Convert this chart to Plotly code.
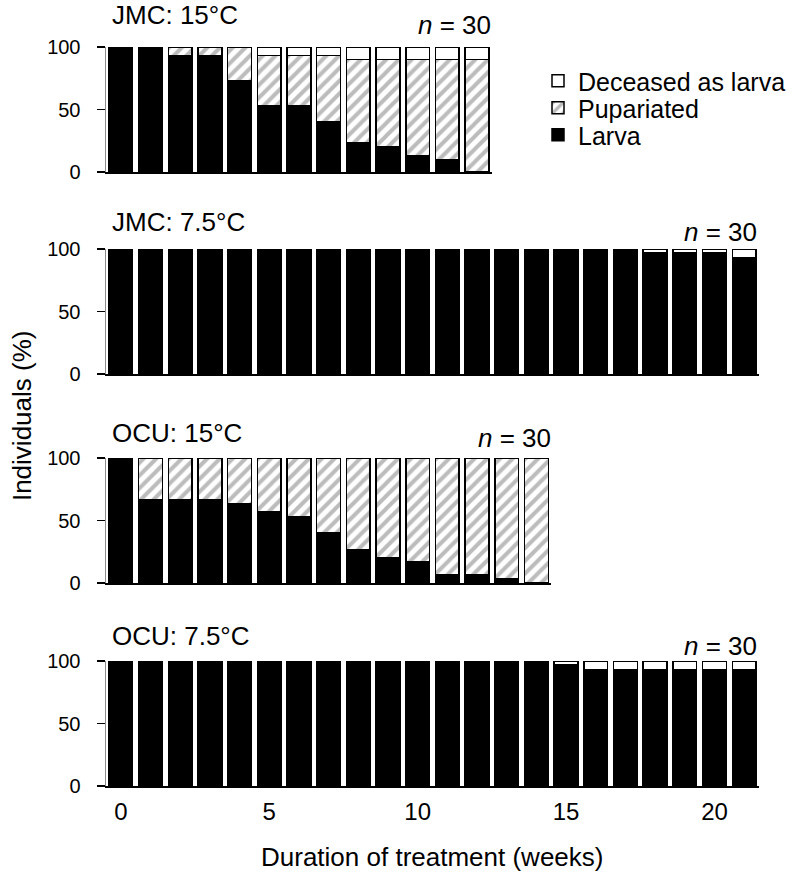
import plotly.graph_objects as go

# ---------------- data ----------------
weeks_jmc15 = [0, 1, 2, 3, 4, 5, 6, 7, 8, 9, 10, 11, 12]
jmc15_larva = [100, 100, 93.3, 93.3, 73.3, 53.3, 53.3, 40, 23.3, 20, 13.3, 10, 0]
jmc15_pup = [0, 0, 6.7, 6.7, 26.7, 40, 40, 53.3, 66.7, 70, 76.7, 80, 90]
jmc15_dead = [0, 0, 0, 0, 0, 6.7, 6.7, 6.7, 10, 10, 10, 10, 10]

weeks_jmc75 = [0, 1, 2, 3, 4, 5, 6, 7, 8, 9, 10, 11, 12, 13, 14, 15, 16, 17, 18, 19, 20, 21]
jmc75_larva = [100, 100, 100, 100, 100, 100, 100, 100, 100, 100, 100, 100, 100, 100, 100, 100, 100, 100, 96.7, 96.7, 96.7, 93.3]
jmc75_pup = [0, 0, 0, 0, 0, 0, 0, 0, 0, 0, 0, 0, 0, 0, 0, 0, 0, 0, 0, 0, 0, 0]
jmc75_dead = [0, 0, 0, 0, 0, 0, 0, 0, 0, 0, 0, 0, 0, 0, 0, 0, 0, 0, 3.3, 3.3, 3.3, 6.7]

weeks_ocu15 = [0, 1, 2, 3, 4, 5, 6, 7, 8, 9, 10, 11, 12, 13, 14]
ocu15_larva = [100, 66.7, 66.7, 66.7, 63.3, 56.7, 53.3, 40, 26.7, 20, 16.7, 6.7, 6.7, 3.3, 0]
ocu15_pup = [0, 33.3, 33.3, 33.3, 36.7, 43.3, 46.7, 60, 73.3, 80, 83.3, 93.3, 93.3, 96.7, 100]
ocu15_dead = [0, 0, 0, 0, 0, 0, 0, 0, 0, 0, 0, 0, 0, 0, 0]

weeks_ocu75 = [0, 1, 2, 3, 4, 5, 6, 7, 8, 9, 10, 11, 12, 13, 14, 15, 16, 17, 18, 19, 20, 21]
ocu75_larva = [100, 100, 100, 100, 100, 100, 100, 100, 100, 100, 100, 100, 100, 100, 100, 96.7, 93.3, 93.3, 93.3, 93.3, 93.3, 93.3]
ocu75_pup = [0, 0, 0, 0, 0, 0, 0, 0, 0, 0, 0, 0, 0, 0, 0, 0, 0, 0, 0, 0, 0, 0]
ocu75_dead = [0, 0, 0, 0, 0, 0, 0, 0, 0, 0, 0, 0, 0, 0, 0, 3.3, 6.7, 6.7, 6.7, 6.7, 6.7, 6.7]

panel_titles = ["JMC: 15°C", "JMC: 7.5°C", "OCU: 15°C", "OCU: 7.5°C"]
n_labels = ["30", "30", "30", "30"]
series_names = ["Larva", "Pupariated", "Deceased as larva"]
x_tickvals = [0, 5, 10, 15, 20]
y_tickvals = [0, 50, 100]

# ---------------- layout geometry ----------------
W, H = 793, 878
L, R, T, B = 106, 33.5, 47, 92
PW = W - L - R
PH = H - T - B
NMAX = 22
FONT = "Liberation Sans, Arial, sans-serif"


def fx(px):
    return (px - L) / PW


def fy(py):
    return (H - B - py) / PH


panels = [
    dict(weeks=weeks_jmc15, data=[jmc15_larva, jmc15_pup, jmc15_dead], top=47, bottom=172, ty=15, ny=25, nr=493),
    dict(weeks=weeks_jmc75, data=[jmc75_larva, jmc75_pup, jmc75_dead], top=249, bottom=374, ty=222, ny=232, nr=760),
    dict(weeks=weeks_ocu15, data=[ocu15_larva, ocu15_pup, ocu15_dead], top=458, bottom=583, ty=433, ny=438, nr=553),
    dict(weeks=weeks_ocu75, data=[ocu75_larva, ocu75_pup, ocu75_dead], top=661, bottom=786, ty=636, ny=646, nr=760),
]

styles = [
    dict(color="black", line=dict(color="black", width=1.5)),
    dict(color="white", line=dict(color="black", width=1.5),
         pattern=dict(shape="/", fgcolor="#7a7a7a", bgcolor="white", size=9, solidity=0.45)),
    dict(color="white", line=dict(color="black", width=1.5)),
]
legend_ids = ["legend3", "legend2", "legend"]

fig = go.Figure()
layout = {}
annotations = []

for i, p in enumerate(panels):
    k = "" if i == 0 else str(i + 1)
    n = len(p["weeks"])
    for j in range(3):
        vals = [v if v != 0 else None for v in p["data"][j]]
        fig.add_trace(go.Bar(
            x=p["weeks"], y=vals, name=series_names[j],
            marker=styles[j], width=0.8,
            xaxis="x" + k, yaxis="y" + k,
            showlegend=(i == 0), legend=legend_ids[j],
            hoverinfo="skip",
        ))
    bottom_panel = (i == len(panels) - 1)
    layout["xaxis" + k] = dict(
        domain=[0, n / NMAX], range=[-0.5, n - 0.5], anchor="y" + k,
        showline=True, linecolor="black", linewidth=1.5,
        ticks="", showgrid=False, zeroline=False,
        tickvals=x_tickvals, showticklabels=bottom_panel,
        tickfont=dict(size=24, family=FONT, color="black"),
        ticklabelstandoff=4,
    )
    layout["yaxis" + k] = dict(
        domain=[fy(p["bottom"]), fy(p["top"])], range=[0, 100], anchor="x" + k,
        showline=True, linecolor="#8c8c8c", linewidth=1.5,
        ticks="outside", ticklen=8, tickwidth=1.5, tickcolor="black",
        tickvals=y_tickvals, showgrid=False, zeroline=False,
        tickfont=dict(size=20, family=FONT, color="black"),
        ticklabelstandoff=12,
    )
    annotations.append(dict(
        text=panel_titles[i], xref="paper", yref="paper",
        x=fx(110), y=fy(p["ty"]), xanchor="left", yanchor="middle",
        showarrow=False, font=dict(size=26, family=FONT, color="black"),
    ))
    annotations.append(dict(
        text="<i>n</i> = " + n_labels[i], xref="paper", yref="paper",
        x=fx(p["nr"]), y=fy(p["ny"]), xanchor="right", yanchor="middle",
        showarrow=False, font=dict(size=26, family=FONT, color="black"),
    ))

annotations.append(dict(
    text="Individuals (%)", xref="paper", yref="paper",
    x=fx(22), y=fy(416), xanchor="center", yanchor="middle", textangle=-90,
    showarrow=False, font=dict(size=26, family=FONT, color="black"),
))
annotations.append(dict(
    text="Duration of treatment (weeks)", xref="paper", yref="paper",
    x=fx(432), y=fy(857), xanchor="center", yanchor="middle",
    showarrow=False, font=dict(size=26, family=FONT, color="black"),
))

legend_rows = {"legend": 81, "legend2": 108, "legend3": 135}
for lid, py in legend_rows.items():
    layout[lid] = dict(
        xref="container", yref="container",
        x=538 / W, y=1 - py / H, xanchor="left", yanchor="middle",
        bgcolor="rgba(0,0,0,0)", borderwidth=0,
        font=dict(size=25, family=FONT, color="black"),
        itemclick=False, itemdoubleclick=False,
    )

fig.update_layout(
    width=W, height=H,
    margin=dict(l=L, r=R, t=T, b=B, pad=0, autoexpand=False),
    paper_bgcolor="white", plot_bgcolor="white",
    barmode="stack", bargap=0.2,
    font=dict(family=FONT, color="black"),
    annotations=annotations,
    hovermode=False,
    **layout,
)

fig.write_html(
    "out.html",
    config={"displayModeBar": False, "staticPlot": True},
    post_script="document.body.style.margin='0px';",
)
